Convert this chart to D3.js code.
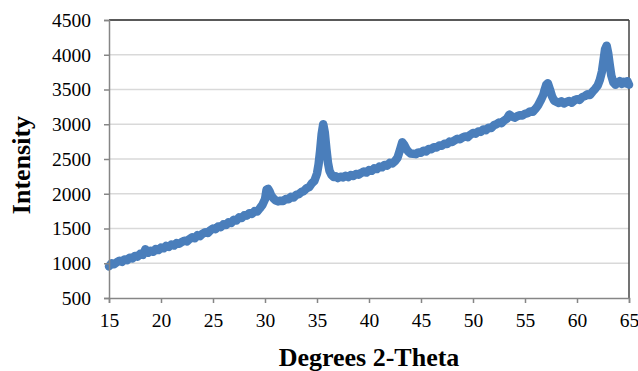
<!DOCTYPE html>
<html>
<head>
<meta charset="utf-8">
<script src="https://cdn.jsdelivr.net/npm/d3@7/dist/d3.min.js"></script>
<style>
  body { margin: 0; background: #fff; }
</style>
</head>
<body>
<div id="chart"></div>
<script>
const twoTheta = [
  15, 15.25, 15.5, 15.75, 16, 16.25, 16.5, 16.75, 17, 17.25, 17.5, 17.75,
  18, 18.25, 18.5, 18.75, 19, 19.25, 19.5, 19.75, 20, 20.25, 20.5, 20.75,
  21, 21.25, 21.5, 21.75, 22, 22.25, 22.5, 22.75, 23, 23.25, 23.5, 23.75,
  24, 24.25, 24.5, 24.75, 25, 25.25, 25.5, 25.75, 26, 26.25, 26.5, 26.75,
  27, 27.25, 27.5, 27.75, 28, 28.25, 28.5, 28.75, 29, 29.25, 29.5, 29.75,
  30, 30.15, 30.3, 30.45, 30.6, 30.8, 31, 31.25, 31.5, 31.75, 32, 32.25,
  32.5, 32.75, 33, 33.25, 33.5, 33.75, 34, 34.25, 34.5, 34.75, 35, 35.15,
  35.3, 35.45, 35.6, 35.75, 35.9, 36.05, 36.2, 36.4, 36.6, 36.8, 37, 37.25,
  37.5, 37.75, 38, 38.25, 38.5, 38.75, 39, 39.25, 39.5, 39.75, 40, 40.25,
  40.5, 40.75, 41, 41.25, 41.5, 41.75, 42, 42.25, 42.5, 42.75, 43, 43.2,
  43.4, 43.6, 43.8, 44, 44.25, 44.5, 44.75, 45, 45.25, 45.5, 45.75, 46,
  46.25, 46.5, 46.75, 47, 47.25, 47.5, 47.75, 48, 48.25, 48.5, 48.75, 49,
  49.25, 49.5, 49.75, 50, 50.25, 50.5, 50.75, 51, 51.25, 51.5, 51.75, 52,
  52.25, 52.5, 52.75, 53, 53.25, 53.5, 53.75, 54, 54.25, 54.5, 54.75, 55,
  55.25, 55.5, 55.75, 56, 56.25, 56.5, 56.75, 56.9, 57.05, 57.2, 57.4, 57.6,
  57.8, 58, 58.25, 58.5, 58.75, 59, 59.25, 59.5, 59.75, 60, 60.25, 60.5,
  60.75, 61, 61.25, 61.5, 61.75, 62, 62.2, 62.4, 62.55, 62.7, 62.85, 63,
  63.15, 63.3, 63.5, 63.7, 63.9, 64.1, 64.3, 64.5, 64.7, 64.85, 65
];
const intensity = [
  955, 1000, 985, 1015, 1035, 1020, 1055, 1045, 1080, 1070, 1105, 1095,
  1135, 1120, 1200, 1150, 1180, 1165, 1205, 1190, 1225, 1215, 1250, 1235,
  1270, 1255, 1290, 1280, 1305, 1325, 1315, 1350, 1375, 1360, 1405, 1390,
  1425, 1445, 1435, 1475, 1500, 1490, 1530, 1520, 1560, 1550, 1590, 1580,
  1625, 1615, 1660, 1650, 1690, 1685, 1720, 1710, 1750, 1745, 1790, 1840,
  1920, 2060, 2070, 2030, 1975, 1935, 1905, 1890, 1900, 1895, 1925, 1920,
  1955, 1945, 1985, 1995, 2025, 2040, 2080, 2095, 2150, 2185, 2290, 2420,
  2620, 2860, 3000, 2880, 2650, 2450, 2330, 2270, 2240, 2250, 2225, 2245,
  2235, 2260, 2240, 2270, 2255, 2285, 2275, 2300, 2320, 2305, 2340, 2330,
  2365, 2355, 2390, 2380, 2415, 2405, 2445, 2435, 2470, 2520, 2640, 2740,
  2700, 2640, 2605, 2580, 2575, 2570, 2595, 2590, 2620, 2610, 2645, 2640,
  2670, 2665, 2695, 2690, 2720, 2715, 2750, 2745, 2770, 2790, 2785, 2810,
  2825, 2815, 2850, 2875, 2865, 2895, 2890, 2925, 2915, 2950, 2945, 2985,
  3000, 3025, 3015, 3055, 3080, 3140, 3110, 3095, 3115, 3130, 3125, 3150,
  3160, 3185, 3180, 3220, 3270, 3340, 3420, 3500, 3570, 3590, 3500, 3400,
  3340, 3325, 3305, 3330, 3300, 3320, 3335, 3310, 3345, 3360, 3350, 3390,
  3405, 3430, 3420, 3470, 3510, 3560, 3640, 3760, 3920, 4080, 4130, 4020,
  3850, 3700, 3600, 3570, 3600, 3620, 3580, 3610, 3590, 3620, 3570
];
const xTicks = [15, 20, 25, 30, 35, 40, 45, 50, 55, 60, 65];
const yTicks = [500, 1000, 1500, 2000, 2500, 3000, 3500, 4000, 4500];

const W = 638, H = 371;
const margin = { top: 20, right: 9, bottom: 73, left: 109 };
const width = W - margin.left - margin.right;
const height = H - margin.top - margin.bottom;
const serif = '"Liberation Serif", "Times New Roman", serif';

const svg = d3.select('#chart').append('svg')
  .attr('width', W)
  .attr('height', H);

const g = svg.append('g')
  .attr('transform', `translate(${margin.left},${margin.top})`);

const x = d3.scaleLinear().domain([15, 65]).range([0, width]);
const y = d3.scaleLinear().domain([500, 4500]).range([height, 0]);

// horizontal gridlines
g.append('g')
  .selectAll('line')
  .data(yTicks.slice(1, -1))
  .enter().append('line')
  .attr('x1', 0).attr('x2', width)
  .attr('y1', d => y(d)).attr('y2', d => y(d))
  .attr('stroke', '#d9d9d9')
  .attr('stroke-width', 1.5);

// top and right frame
g.append('line')
  .attr('x1', 0).attr('x2', width).attr('y1', 0).attr('y2', 0)
  .attr('stroke', '#222').attr('stroke-width', 1.5);
g.append('line')
  .attr('x1', width).attr('x2', width).attr('y1', 0).attr('y2', height)
  .attr('stroke', '#444').attr('stroke-width', 1.5);

// data
const pts = twoTheta.map((t, i) => ({ t, v: intensity[i] }));
const line = d3.line()
  .x(d => x(d.t))
  .y(d => y(d.v));

g.append('path')
  .datum(pts)
  .attr('fill', 'none')
  .attr('stroke', '#4a7ebb')
  .attr('stroke-width', 8.5)
  .attr('stroke-linejoin', 'round')
  .attr('stroke-linecap', 'round')
  .attr('d', line);

// axes
g.append('g')
  .attr('transform', `translate(0,${height})`)
  .call(d3.axisBottom(x).tickValues(xTicks).tickSize(5).tickPadding(10).tickFormat(d3.format('d')))
  .attr('font-family', serif)
  .attr('font-size', 19.5)
  .call(a => a.select('.domain').attr('stroke', '#868686').attr('stroke-width', 1.5))
  .call(a => a.selectAll('.tick line').attr('stroke', '#868686').attr('stroke-width', 1.5))
  .call(a => a.selectAll('.tick text').attr('fill', '#000'));

g.append('g')
  .call(d3.axisLeft(y).tickValues(yTicks).tickSize(5).tickPadding(13).tickFormat(d3.format('d')))
  .attr('font-family', serif)
  .attr('font-size', 19.5)
  .call(a => a.select('.domain').attr('stroke', '#868686').attr('stroke-width', 1.5))
  .call(a => a.selectAll('.tick line').attr('stroke', '#868686').attr('stroke-width', 1.5))
  .call(a => a.selectAll('.tick text').attr('fill', '#000'));

// axis titles
svg.append('text')
  .attr('x', margin.left + width / 2)
  .attr('y', 366)
  .attr('text-anchor', 'middle')
  .style('font-family', serif)
  .style('font-size', '26px')
  .style('font-weight', 'bold')
  .text('Degrees 2-Theta');

svg.append('text')
  .attr('transform', 'translate(30,165) rotate(-90)')
  .attr('text-anchor', 'middle')
  .style('font-family', serif)
  .style('font-size', '26px')
  .style('font-weight', 'bold')
  .text('Intensity');
</script>
</body>
</html>
